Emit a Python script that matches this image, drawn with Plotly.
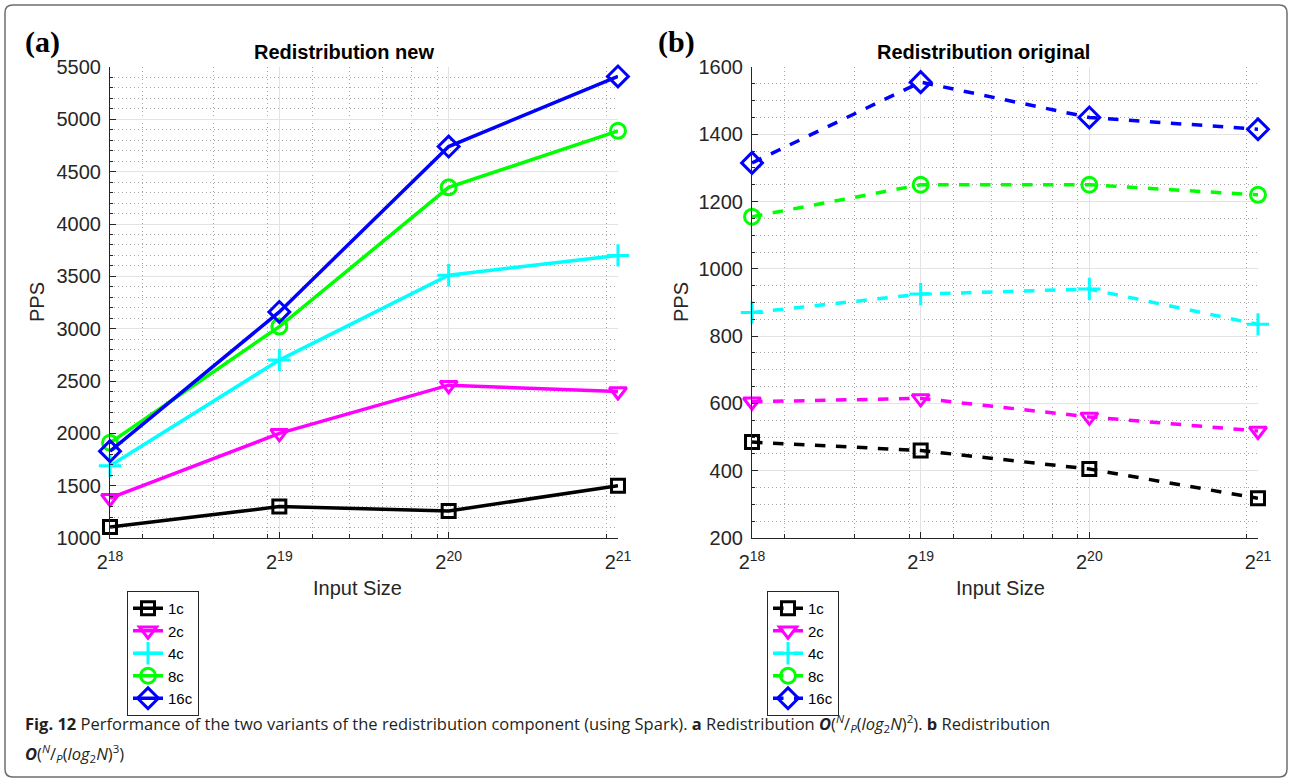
import plotly.graph_objects as go

W, H = 1291, 781

input_sizes = [2**18, 2**19, 2**20, 2**21]
tick_labels = ["2<sup>18</sup>", "2<sup>19</sup>", "2<sup>20</sup>", "2<sup>21</sup>"]
series_names = ["1c", "2c", "4c", "8c", "16c"]

# (a) Redistribution new
new_1c = [1105, 1300, 1258, 1500]
new_2c = [1380, 2000, 2460, 2400]
new_4c = [1690, 2700, 3510, 3700]
new_8c = [1910, 3020, 4350, 4890]
new_16c = [1830, 3160, 4740, 5410]

# (b) Redistribution original
orig_1c = [485, 460, 405, 318]
orig_2c = [605, 615, 560, 518]
orig_4c = [870, 925, 940, 835]
orig_8c = [1155, 1250, 1250, 1220]
orig_16c = [1315, 1555, 1450, 1415]

colors = ["#000000", "#ff00ff", "#00ffff", "#00ff00", "#0000ff"]
symbols = ["square-open", "triangle-down-open", "cross-thin-open", "circle-open", "diamond-open"]
sizes = [13, 15, 16, 15, 16]

minor_x = [3e5, 4e5, 5e5, 6e5, 7e5, 8e5, 9e5, 1e6, 2e6]


def px(x):
    return x / W


def py(y):
    return 1 - y / H


fig = go.Figure()

new_data = [new_1c, new_2c, new_4c, new_8c, new_16c]
orig_data = [orig_1c, orig_2c, orig_4c, orig_8c, orig_16c]

for i, name in enumerate(series_names):
    fig.add_trace(go.Scatter(
        x=input_sizes, y=new_data[i], name=name, mode="lines+markers",
        line=dict(color=colors[i], width=3.5),
        marker=dict(symbol=symbols[i], size=sizes[i], color=colors[i],
                    line=dict(color=colors[i], width=3)),
        xaxis="x", yaxis="y", legend="legend", cliponaxis=False))
for i, name in enumerate(series_names):
    fig.add_trace(go.Scatter(
        x=input_sizes, y=orig_data[i], name=name, mode="lines+markers",
        line=dict(color=colors[i], width=3.5, dash="dash"),
        marker=dict(symbol=symbols[i], size=sizes[i], color=colors[i],
                    line=dict(color=colors[i], width=3)),
        xaxis="x2", yaxis="y2", legend="legend2", cliponaxis=False))

axis_font = dict(family="Liberation Sans, Arial, sans-serif", size=20, color="#262626")
tick_font = dict(family="Liberation Sans, Arial, sans-serif", size=20, color="#262626")

dotdash = "1px,3px"

common_x = dict(
    type="log", tickmode="array", tickvals=input_sizes, ticktext=tick_labels,
    range=[5.41851, 6.32166], showgrid=True, gridcolor="#e3e3e3", gridwidth=1,
    showline=True, linecolor="#262626", linewidth=1.2, mirror=False,
    ticks="inside", ticklen=6, tickcolor="#262626", tickfont=tick_font,
    zeroline=False, automargin=False, ticklabelstandoff=6,
    minor=dict(tickmode="array", tickvals=minor_x, showgrid=True, gridcolor="#a8a8a8",
               griddash=dotdash, gridwidth=1, ticks="inside", ticklen=4, tickcolor="#262626"),
)
common_y = dict(
    showgrid=True, gridcolor="#e3e3e3", gridwidth=1,
    showline=True, linecolor="#262626", linewidth=1.2, mirror=False,
    ticks="inside", ticklen=6, tickcolor="#262626", tickfont=tick_font,
    zeroline=False, automargin=False, ticklabelstandoff=4,
)

xl0, xl1 = 110, 618
xr0, xr1 = 752, 1258
yt, yb = 67, 538

legend_font = dict(family="Liberation Sans, Arial, sans-serif", size=15, color="#000000")

fig.update_layout(
    width=W, height=H, margin=dict(l=0, r=0, t=0, b=0, pad=0, autoexpand=False),
    autosize=False,
    plot_bgcolor="white", paper_bgcolor="white",
    font=dict(family="Liberation Sans, Arial, sans-serif", color="#262626"),
    xaxis=dict(domain=[px(xl0), px(xl1)], anchor="y", **common_x),
    yaxis=dict(domain=[py(yb), py(yt)], anchor="x", range=[1000, 5500],
               tickvals=[1000, 1500, 2000, 2500, 3000, 3500, 4000, 4500, 5000, 5500],
               minor=dict(dtick=100, showgrid=True, gridcolor="#a8a8a8", griddash=dotdash,
                          gridwidth=1, ticks="inside", ticklen=3, tickcolor="#262626"),
               **common_y),
    xaxis2=dict(domain=[px(xr0), px(xr1)], anchor="y2", **common_x),
    yaxis2=dict(domain=[py(yb), py(yt)], anchor="x2", range=[200, 1600],
                tickvals=[200, 400, 600, 800, 1000, 1200, 1400, 1600],
                minor=dict(dtick=50, showgrid=True, gridcolor="#a8a8a8", griddash=dotdash,
                           gridwidth=1, ticks="inside", ticklen=3, tickcolor="#262626"),
                **common_y),
    legend=dict(x=px(127), y=py(591), xanchor="left", yanchor="top",
                bordercolor="#262626", borderwidth=1, bgcolor="white",
                font=legend_font, tracegroupgap=0, itemwidth=30),
    legend2=dict(x=px(767), y=py(591), xanchor="left", yanchor="top",
                 bordercolor="#262626", borderwidth=1, bgcolor="white",
                 font=legend_font, tracegroupgap=0, itemwidth=30),
    showlegend=True,
)

cap_font = dict(family="Open Sans, sans-serif", size=16.5, color="#231f20")
annotations = [
    dict(text="<b>Redistribution new</b>", x=px(344), y=py(52), font=dict(size=20, color="#000000")),
    dict(text="<b>Redistribution original</b>", x=px(983), y=py(52), font=dict(size=20, color="#000000")),
    dict(text="PPS", x=px(37), y=py(302), textangle=-90, font=axis_font),
    dict(text="PPS", x=px(681), y=py(302), textangle=-90, font=axis_font),
    dict(text="Input Size", x=px(357), y=py(588), font=axis_font),
    dict(text="Input Size", x=px(1000), y=py(588), font=axis_font),
    dict(text="<b>(a)</b>", x=px(42), y=py(42),
         font=dict(family="Liberation Serif, Times New Roman, serif", size=30, color="#000000")),
    dict(text="<b>(b)</b>", x=px(676), y=py(42),
         font=dict(family="Liberation Serif, Times New Roman, serif", size=30, color="#000000")),
    dict(text="<b>Fig. 12</b> Performance of the two variants of the redistribution component (using Spark). "
              "<b>a</b> Redistribution <b><i>O</i></b>(<sup><i>N</i></sup>/<sub><i>P</i></sub>(<i>log</i><sub>2</sub><i>N</i>)<sup>2</sup>). "
              "<b>b</b> Redistribution",
         x=px(23), y=py(723), xanchor="left", font=cap_font),
    dict(text="<b><i>O</i></b>(<sup><i>N</i></sup>/<sub><i>P</i></sub>(<i>log</i><sub>2</sub><i>N</i>)<sup>3</sup>)",
         x=px(23), y=py(753), xanchor="left", font=cap_font),
]
for a in annotations:
    a.setdefault("xref", "paper")
    a.setdefault("yref", "paper")
    a.setdefault("showarrow", False)
    a.setdefault("xanchor", "center")
    a.setdefault("yanchor", "middle")
fig.update_layout(annotations=annotations)

# rounded figure frame
l, t, r, b, rad = px(5), py(5), px(1287), py(777), 0.006
fig.add_shape(type="path", xref="paper", yref="paper",
              path=(f"M {l+rad} {t} L {r-rad} {t} Q {r} {t} {r} {t-rad*W/H} "
                    f"L {r} {b+rad*W/H} Q {r} {b} {r-rad} {b} "
                    f"L {l+rad} {b} Q {l} {b} {l} {b+rad*W/H} "
                    f"L {l} {t-rad*W/H} Q {l} {t} {l+rad} {t} Z"),
              line=dict(color="#6d6e71", width=1.5), layer="below")

fig.write_html("out.html")
